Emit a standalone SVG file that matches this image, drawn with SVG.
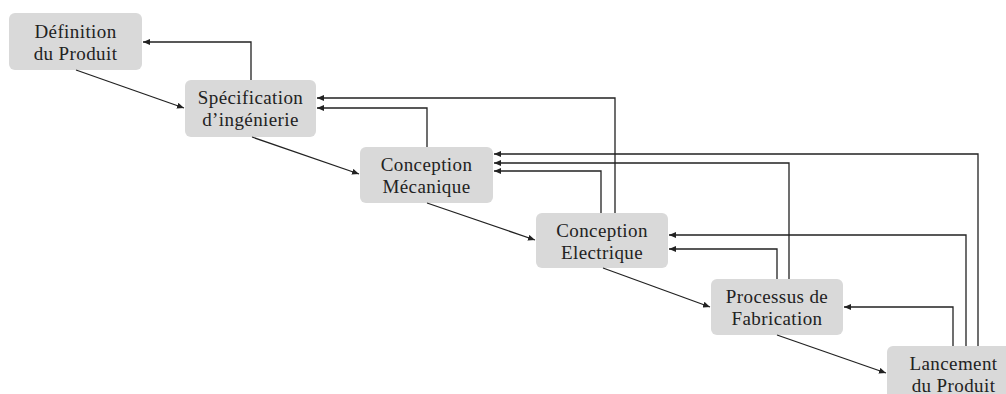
<svg xmlns="http://www.w3.org/2000/svg" width="1006" height="394" viewBox="0 0 1006 394">
<style>
.box{fill:#d9d9d9;}
.lbl{font-family:"Liberation Serif","DejaVu Serif",serif;font-size:19px;letter-spacing:0.4px;fill:#222;text-anchor:middle;}
.c{fill:none;stroke:#222;stroke-width:1.3;}
</style>
<defs>
<marker id="ah" markerWidth="8" markerHeight="6" refX="7" refY="3" orient="auto" markerUnits="userSpaceOnUse">
<path d="M0,0 L7,3 L0,6 z" fill="#222"/>
</marker>
</defs>
<rect width="1006" height="394" fill="#fff"/>
<g id="n1"><rect class="box" x="9" y="13" width="133" height="57" rx="6"/><text class="lbl" x="75.5" y="38">Définition</text><text class="lbl" x="75.5" y="60">du Produit</text></g>
<g id="n2"><rect class="box" x="185" y="80" width="131" height="57" rx="6"/><text class="lbl" x="250.5" y="104">Spécification</text><text class="lbl" x="250.5" y="126">d’ingénierie</text></g>
<g id="n3"><rect class="box" x="360" y="147" width="133" height="56" rx="6"/><text class="lbl" x="426.5" y="171">Conception</text><text class="lbl" x="426.5" y="192.5">Mécanique</text></g>
<g id="n4"><rect class="box" x="536" y="213" width="132" height="55" rx="6"/><text class="lbl" x="602" y="237">Conception</text><text class="lbl" x="602" y="258.5">Electrique</text></g>
<g id="n5"><rect class="box" x="711" y="279" width="132" height="56" rx="6"/><text class="lbl" x="777" y="303">Processus de</text><text class="lbl" x="777" y="325">Fabrication</text></g>
<g id="n6"><rect class="box" x="887" y="346" width="133" height="56" rx="6"/><text class="lbl" x="953.5" y="370">Lancement</text><text class="lbl" x="953.5" y="392">du Produit</text></g>
<g id="connectors">
<path class="c" marker-end="url(#ah)" d="M76,70 L184,108"/>
<path class="c" marker-end="url(#ah)" d="M252,137 L359,174"/>
<path class="c" marker-end="url(#ah)" d="M427,203 L535,240"/>
<path class="c" marker-end="url(#ah)" d="M603,268 L710,307"/>
<path class="c" marker-end="url(#ah)" d="M777,335 L886,373"/>
<path class="c" marker-end="url(#ah)" d="M251,80 V42 H143"/>
<path class="c" marker-end="url(#ah)" d="M427,147 V108 H317"/>
<path class="c" marker-end="url(#ah)" d="M615,213 V98 H317"/>
<path class="c" marker-end="url(#ah)" d="M601,213 V171 H494"/>
<path class="c" marker-end="url(#ah)" d="M789,279 V163 H494"/>
<path class="c" marker-end="url(#ah)" d="M978,346 V154 H494"/>
<path class="c" marker-end="url(#ah)" d="M966,346 V235 H669"/>
<path class="c" marker-end="url(#ah)" d="M777,279 V249 H669"/>
<path class="c" marker-end="url(#ah)" d="M953,346 V307 H844"/>
</g>
</svg>
